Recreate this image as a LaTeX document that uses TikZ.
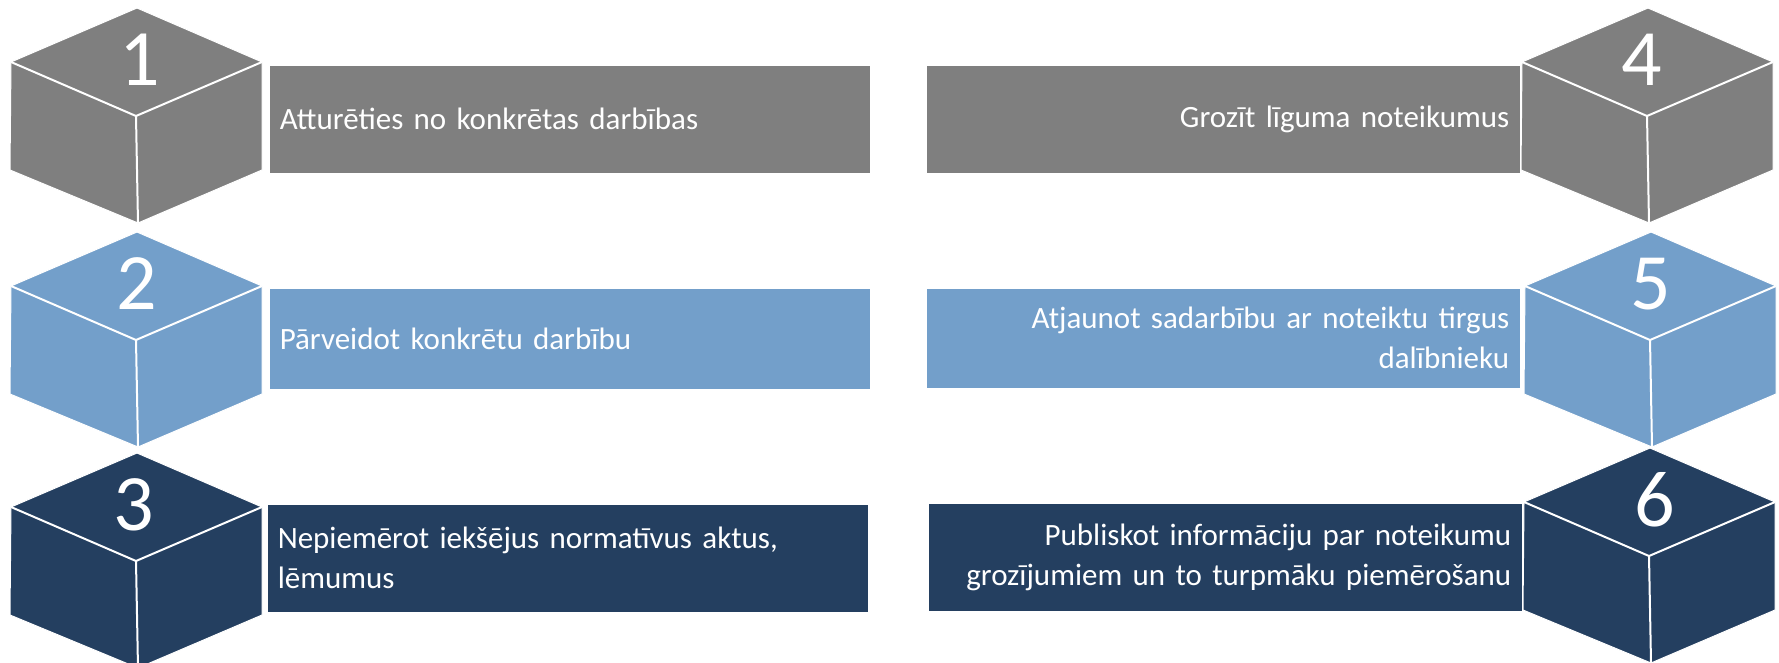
\documentclass[tikz,border=0pt]{standalone}
\usepackage{fontspec}
\setmainfont{Carlito}
\definecolor{cgray}{HTML}{7F7F7F}
\definecolor{cblue}{HTML}{739FCA}
\definecolor{cnavy}{HTML}{243F60}
\tikzset{
  bar/.style={draw=white, line width=1.5pt, minimum height=109pt, inner xsep=11pt, text=white,
    font=\fontsize{31}{40}\selectfont},
  barL/.style={bar, anchor=north west, align=left, text width=580pt},
  barR/.style={bar, anchor=north east, align=right, text width=572pt},
  edge/.style={draw=white, line width=2pt},
  num/.style={text=white, font=\fontsize{80}{80}\selectfont, inner sep=0pt}
}
% \cubeshape{cx}{ty}{color}{number}{num dx}{name}
\newcommand{\cubeshape}[6]{%
  \begin{scope}[shift={(#1,#2)}]
    \fill[#3, draw=white, line width=1pt] (0,0) -- (-126,54) -- (-127,162) -- (1,215) -- (125,162) -- (125,54) -- cycle;
    \draw[edge] (-126,54) -- (-1,108) -- (125,54);
    \draw[edge] (-1,108) -- (1,215);
    \node[num] (#6) at (#5,52) {#4};
  \end{scope}}
\begin{document}
\begin{tikzpicture}[x=1pt,y=-1pt]
\useasboundingbox (0,0) rectangle (1779,662);
\cubeshape{137}{8}{cgray}{1}{3}{n1}
\cubeshape{137}{232}{cblue}{2}{0}{n2}
\cubeshape{137}{453}{cnavy}{3}{-3}{n3}
\cubeshape{1648}{8}{cgray}{4}{-6}{n4}
\cubeshape{1651}{232}{cblue}{5}{0}{n5}
\cubeshape{1650}{448}{cnavy}{6}{5}{n6}
\node[barL, fill=cgray] (b1) at (268,64) {Atturēties no konkrētas darbības};
\node[barL, fill=cblue, minimum height=102pt] (b2) at (268,287) {Pārveidot konkrētu darbību};
\node[barL, fill=cnavy] (b3) at (266,503) {Nepiemērot iekšējus normatīvus aktus,\\lēmumus};
\node[barR, fill=cgray] (b4) at (1521,64) {Grozīt līguma noteikumus};
\node[barR, fill=cblue, minimum height=101pt] (b5) at (1521,287) {Atjaunot sadarbību ar noteiktu tirgus\\dalībnieku};
\node[barR, fill=cnavy] (b6) at (1523,502) {Publiskot informāciju par noteikumu\\grozījumiem un to turpmāku piemērošanu};
\end{tikzpicture}
\end{document}
